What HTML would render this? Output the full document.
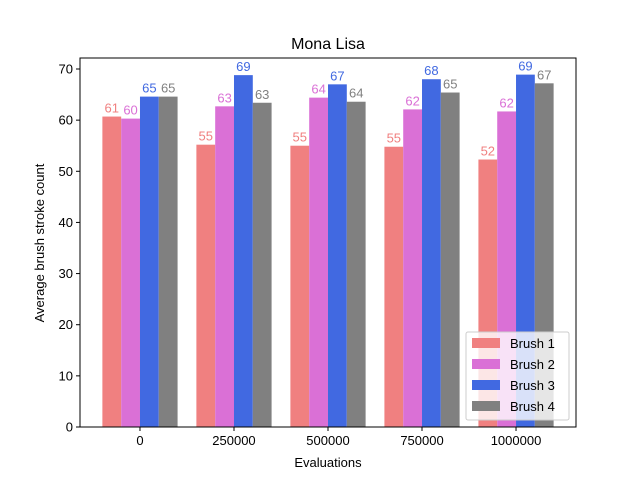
<!DOCTYPE html>
<html><head><meta charset="utf-8"><style>
body{margin:0;background:#fff;}
svg{font-family:"Liberation Sans","DejaVu Sans",sans-serif;}
</style></head><body>
<svg id="chart" width="640" height="480">
<rect width="640" height="480" fill="#fff"/>
<text x="328" y="49" font-size="16" text-anchor="middle">Mona Lisa</text>
<g id="bars"></g>
<g id="axes"></g>
<text x="328" y="467" font-size="13" text-anchor="middle">Evaluations</text>
<text transform="translate(44,243) rotate(-90)" font-size="13" text-anchor="middle">Average brush stroke count</text>
<g id="legend"></g>
</svg>
<script>
const categories = ["0","250000","500000","750000","1000000"];
const seriesNames = ["Brush 1","Brush 2","Brush 3","Brush 4"];
const brush1 = [60.7, 55.2, 55.0, 54.8, 52.3];
const brush2 = [60.3, 62.7, 64.4, 62.1, 61.7];
const brush3 = [64.6, 68.8, 67.0, 68.0, 68.9];
const brush4 = [64.6, 63.4, 63.6, 65.4, 67.2];
const yTicks = [0,10,20,30,40,50,60,70];
const colors = ["#f08080","#da70d6","#4169e1","#808080"];
const series = [brush1, brush2, brush3, brush4];

const L=80,R=576,T=58,B=427, yMax=72.15, xMin=-0.638, xMax=4.638;
const X = v => L + (v - xMin)/(xMax - xMin)*(R-L);
const Y = v => B - v/yMax*(B-T);
const NS="http://www.w3.org/2000/svg";
function mk(tag, attrs, parent, text){const e=document.createElementNS(NS,tag);for(const k in attrs)e.setAttribute(k,attrs[k]);if(text!==undefined)e.textContent=text;parent.appendChild(e);return e;}
const bars=document.getElementById('bars'), axes=document.getElementById('axes'), leg=document.getElementById('legend');
const bw=0.2;
series.forEach((s,si)=>{
  s.forEach((v,ci)=>{
    const x0=X(ci-0.4+si*bw), x1=X(ci-0.4+(si+1)*bw);
    const r=mk('rect',{x:x0,y:Y(v),width:x1-x0,height:B-Y(v),fill:colors[si]},bars);
    
    
    const t=mk('text',{x:(x0+x1)/2,y:Y(v)-4,'font-size':13,'text-anchor':'middle',fill:colors[si]},bars,String(Math.round(v)));
    
    
  });
});
mk('rect',{x:L,y:T,width:R-L,height:B-T,fill:'none',stroke:'#000','stroke-width':1},axes);
yTicks.forEach(v=>{
  mk('line',{x1:L-4,x2:L,y1:Y(v),y2:Y(v),stroke:'#000'},axes);
  const t=mk('text',{x:L-7,y:Y(v)+4.5,'font-size':13,'text-anchor':'end'},axes,String(v));
  
  
});
categories.forEach((c,i)=>{
  mk('line',{x1:X(i),x2:X(i),y1:B,y2:B+4,stroke:'#000'},axes);
  const t=mk('text',{x:X(i),y:B+18,'font-size':13,'text-anchor':'middle'},axes,c);
  
  
});
mk('rect',{x:466,y:332,width:103,height:88,fill:'#fff','fill-opacity':0.8,stroke:'#ccc',rx:2},leg);
seriesNames.forEach((n,i)=>{
  const y=338+i*21;
  const g=mk('g',{},leg);
  
  
  mk('rect',{x:472,y:y,width:28,height:10,fill:colors[i]},g);
  mk('text',{x:510,y:y+10,'font-size':13},g,n);
});
</script>
</body></html>
